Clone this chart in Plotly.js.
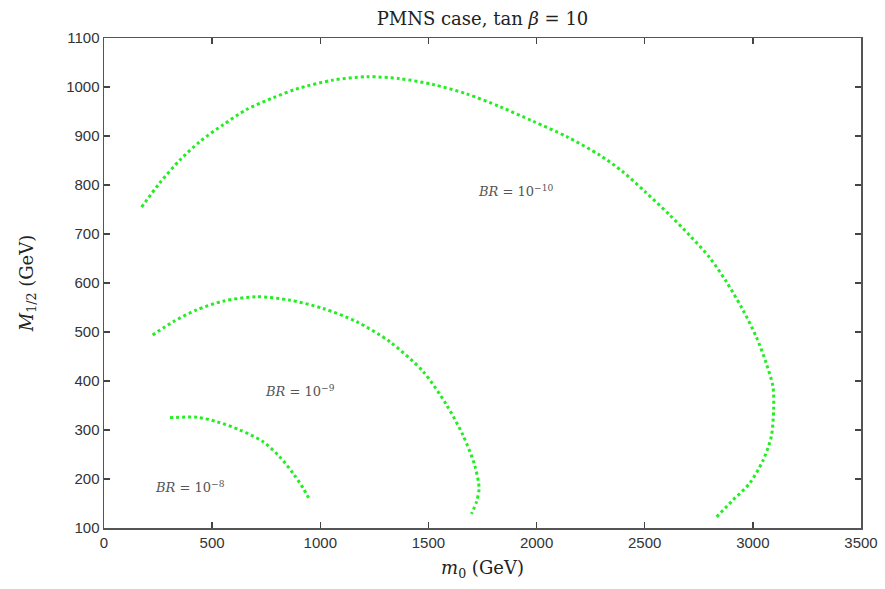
<!DOCTYPE html>
<html>
<head>
<meta charset="utf-8">
<script src="https://cdn.plot.ly/plotly-3.0.1.min.js"></script>
<style>html,body{margin:0;padding:0;background:#fff;}#chart{width:885px;height:589px;}</style>
</head>
<body>
<div id="chart"></div>
<script>
// BR = 1e-10 contour
const br10_m0 = [174, 259, 351, 444, 551, 659, 782, 890, 1058, 1215, 1368, 1522, 1676, 1830, 1984, 2138, 2292, 2396, 2500, 2615, 2708, 2800, 2877, 2954, 3016, 3062, 3093, 3096, 3085, 3047, 2985, 2908, 2831];
const br10_m12 = [755, 805, 851, 889, 923, 954, 978, 996, 1014, 1021, 1017, 1005, 986, 960, 930, 899, 861, 828, 787, 739, 697, 652, 603, 545, 490, 436, 388, 341, 286, 238, 191, 157, 122];
// BR = 1e-9 contour
const br9_m0 = [225, 320, 428, 551, 706, 860, 1013, 1168, 1322, 1476, 1584, 1660, 1714, 1734, 1722, 1699];
const br9_m12 = [494, 521, 545, 563, 572, 565, 548, 521, 480, 419, 351, 289, 228, 181, 153, 129];
// BR = 1e-8 contour
const br8_m0 = [305, 428, 521, 628, 736, 813, 875, 921, 952];
const br8_m12 = [325, 326, 317, 300, 276, 245, 211, 181, 157];
// labels
const labelText = ["<i>BR</i> = 10<sup>−10</sup>", "<i>BR</i> = 10<sup>−9</sup>", "<i>BR</i> = 10<sup>−8</sup>"];
const labelX = [1903, 906, 397];
const labelY = [787, 380, 184];

const green = '#22ee22';
function tr(x, y) {
  return {x: x, y: y, type: 'scatter', mode: 'lines',
    line: {color: green, width: 3, dash: 'dot', shape: 'spline', smoothing: 0.8},
    hoverinfo: 'skip', showlegend: false};
}
const data = [tr(br10_m0, br10_m12), tr(br9_m0, br9_m12), tr(br8_m0, br8_m12)];

const annotations = labelText.map((t, i) => ({
  x: labelX[i], y: labelY[i], xref: 'x', yref: 'y', text: t, showarrow: false,
  font: {family: 'DejaVu Serif, serif', size: 13, color: '#555'}
}));

const axisCommon = {
  showgrid: false, zeroline: false, showline: true, linecolor: '#555', linewidth: 1.5,
  mirror: 'ticks', ticks: 'inside', ticklen: 6, tickcolor: '#444', tickwidth: 1.5,
  tickfont: {family: 'Liberation Sans, Arial, sans-serif', size: 15, color: '#333'}
};

const layout = {
  width: 885, height: 589,
  margin: {l: 104, r: 24, t: 38, b: 61},
  paper_bgcolor: '#fff', plot_bgcolor: '#fff',
  title: {text: 'PMNS case, tan <i>β</i> = 10', font: {family: 'DejaVu Serif, Liberation Serif, serif', size: 18, color: '#222'},
    xref: 'paper', x: 0.5, xanchor: 'center', yref: 'container', y: 0.969, yanchor: 'middle'},
  xaxis: Object.assign({}, axisCommon, {range: [0, 3500], tickvals: [0,500,1000,1500,2000,2500,3000,3500],
    title: {text: '<i>m</i><sub>0</sub> (GeV)', font: {family: 'DejaVu Serif, Liberation Serif, serif', size: 18, color: '#222'}, standoff: 12}}),
  yaxis: Object.assign({}, axisCommon, {range: [100, 1100], tickvals: [100,200,300,400,500,600,700,800,900,1000,1100],
    title: {text: '<i>M</i><sub>1/2</sub> (GeV)', font: {family: 'DejaVu Serif, Liberation Serif, serif', size: 18, color: '#222'}, standoff: 28}}),
  annotations: annotations
};

Plotly.newPlot('chart', data, layout, {displayModeBar: false, staticPlot: true});
</script>
</body>
</html>
